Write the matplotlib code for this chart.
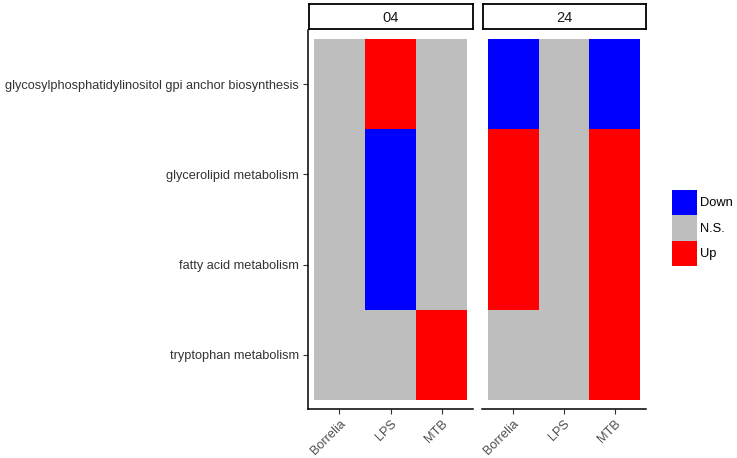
import matplotlib
matplotlib.use("Agg")
import matplotlib.pyplot as plt
import numpy as np
from matplotlib.colors import ListedColormap
from matplotlib.patches import Patch

plt.rcParams["font.family"] = ["Liberation Sans", "DejaVu Sans"]

facets = ["04", "24"]
conditions = ["Borrelia", "LPS", "MTB"]
pathways = ["glycosylphosphatidylinositol gpi anchor biosynthesis",
            "glycerolipid metabolism",
            "fatty acid metabolism",
            "tryptophan metabolism"]
levels = ["Down", "N.S.", "Up"]
level_colors = ["#0000FF", "#BEBEBE", "#FF0000"]

# rows = pathways (top to bottom), cols = conditions
status_04 = [["N.S.", "Up", "N.S."],
             ["N.S.", "Down", "N.S."],
             ["N.S.", "Down", "N.S."],
             ["N.S.", "N.S.", "Up"]]
status_24 = [["Down", "N.S.", "Down"],
             ["Up", "N.S.", "Up"],
             ["Up", "N.S.", "Up"],
             ["N.S.", "N.S.", "Up"]]
statuses = [status_04, status_24]

W, H = 737, 458
fig = plt.figure(figsize=(W / 100, H / 100), dpi=100)
cmap = ListedColormap(level_colors)
txt = "#4D4D4D"

panels = [(308, 473), (482, 646)]
ptop, pbot = 30, 409
for k, (facet, st, (x0, x1)) in enumerate(zip(facets, statuses, panels)):
    ax = fig.add_axes([x0 / W, (H - pbot) / H, (x1 - x0) / W, (pbot - ptop) / H])
    mat = np.array([[levels.index(v) for v in row] for row in st])
    ny, nx = mat.shape
    ax.pcolormesh(np.arange(nx + 1) - 0.5, np.arange(ny + 1) - 0.5, mat,
                  cmap=cmap, vmin=-0.5, vmax=2.5, edgecolors="face", linewidth=0)
    ax.set_xlim(-0.61, nx - 0.39)
    ax.set_ylim(ny - 0.4, -0.6)
    ax.set_xticks(range(nx))
    ax.set_xticklabels(conditions, rotation=45, ha="right", rotation_mode="anchor",
                       fontsize=9.2, color=txt)
    for s in ["top", "right"]:
        ax.spines[s].set_visible(False)
    ax.spines["bottom"].set_linewidth(1.1)
    ax.spines["left"].set_linewidth(1.1)
    ax.tick_params(length=3.5, width=0.8, color="#333333", pad=3)
    if k == 0:
        ax.set_yticks(range(ny))
        ax.set_yticklabels(pathways, fontsize=9.2, color="#333333")
    else:
        ax.spines["left"].set_visible(False)
        ax.set_yticks([])
    # strip
    sax = fig.add_axes([(x0 + 1) / W, (H - 29) / H, (x1 - x0 - 1) / W, 25 / H])
    sax.set_xticks([]); sax.set_yticks([])
    for s in sax.spines.values():
        s.set_linewidth(1.3)
        s.set_color("black")
    sax.text(0.5, 0.45, facet, ha="center", va="center", fontsize=10.5, color="#1A1A1A",
             transform=sax.transAxes)

handles = [Patch(facecolor=c, edgecolor="none", label=l) for l, c in zip(levels, level_colors)]
fig.legend(handles=handles, loc="center left", bbox_to_anchor=(672 / W, 1 - 228 / H),
           frameon=False, fontsize=9.3, handlelength=1.95, handleheight=2.65,
           handletextpad=0.25, labelspacing=0.0, borderpad=0, borderaxespad=0)

fig.savefig("out.png", dpi=100)
